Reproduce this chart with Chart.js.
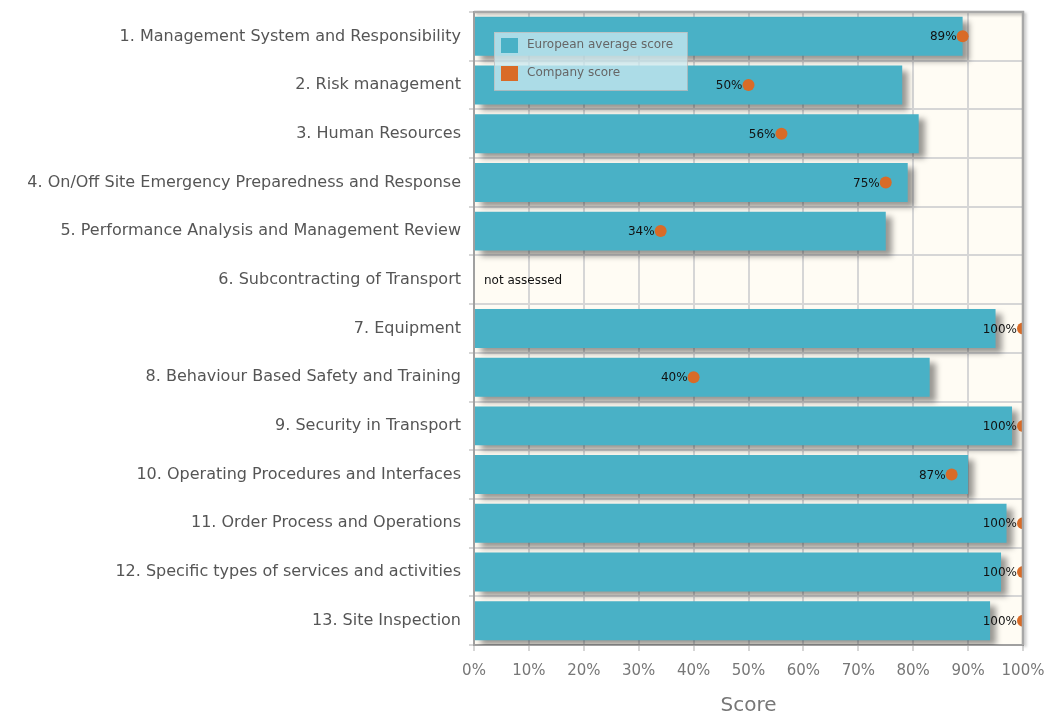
<!DOCTYPE html>
<html>
<head>
<meta charset="utf-8">
<script src="https://cdn.jsdelivr.net/npm/chart.js@4"></script>
<style>
  body { margin: 0; background: #fff; }
  #wrap { width: 1047px; height: 718px; }
</style>
</head>
<body>
<div id="wrap"><canvas id="bars"></canvas></div>
<script>
const categories = [
  '1. Management System and Responsibility',
  '2. Risk management',
  '3. Human Resources',
  '4. On/Off Site Emergency Preparedness and Response',
  '5. Performance Analysis and Management Review',
  '6. Subcontracting of Transport',
  '7. Equipment',
  '8. Behaviour Based Safety and Training',
  '9. Security in Transport',
  '10. Operating Procedures and Interfaces',
  '11. Order Process and Operations',
  '12. Specific types of services and activities',
  '13. Site Inspection'
];
const europeanAvg = [89, 78, 81, 79, 75, null, 95, 83, 98, 90, 97, 96, 94];
const companyScore = [89, 50, 56, 75, 34, null, 100, 40, 100, 87, 100, 100, 100];
const notAssessed = ['6. Subcontracting of Transport'];
const xTicks = [0, 10, 20, 30, 40, 50, 60, 70, 80, 90, 100];

const teal = '#49b1c6';
const orange = '#d96b27';
const labelFont = '"DejaVu Sans", sans-serif';

// cream plot background + border
const plotBg = {
  id: 'plotBg',
  beforeDraw(chart) {
    const { ctx, chartArea: a } = chart;
    ctx.save();
    ctx.fillStyle = '#fffcf4';
    ctx.fillRect(a.left, a.top, a.width, a.height);
    ctx.restore();
  },
  afterDatasetsDraw(chart) {
    const { ctx, chartArea: a } = chart;
    ctx.save();
    ctx.shadowColor = 'rgba(0,0,0,0.25)';
    ctx.shadowOffsetX = 2;
    ctx.shadowOffsetY = 2;
    ctx.shadowBlur = 3;
    ctx.strokeStyle = '#a8a8a8';
    ctx.lineWidth = 2.5;
    ctx.beginPath();
    ctx.moveTo(a.left, a.top);
    ctx.lineTo(a.right, a.top);
    ctx.lineTo(a.right, a.bottom);
    ctx.stroke();
    ctx.restore();
  }
};

// drop shadow under the bars
const barShadow = {
  id: 'barShadow',
  beforeDatasetDraw(chart, args) {
    if (args.index !== 0) return;
    const ctx = chart.ctx;
    ctx.save();
    ctx.shadowColor = 'rgba(0,0,0,0.4)';
    ctx.shadowOffsetX = 6;
    ctx.shadowOffsetY = 5;
    ctx.shadowBlur = 6;
  },
  afterDatasetDraw(chart, args) {
    if (args.index !== 0) return;
    chart.ctx.restore();
  }
};

// value labels next to the dots, "not assessed" text
const pointLabels = {
  id: 'pointLabels',
  afterDatasetsDraw(chart) {
    const { ctx } = chart;
    const meta = chart.getDatasetMeta(1);
    ctx.save();
    ctx.font = '12px ' + labelFont;
    ctx.fillStyle = '#111';
    ctx.textAlign = 'right';
    ctx.textBaseline = 'middle';
    meta.data.forEach((pt, i) => {
      const v = companyScore[i];
      if (v == null) return;
      ctx.fillText(v + '%', pt.x - 6, pt.y + 1);
    });
    const ys = chart.scales.y, xs = chart.scales.x;
    notAssessed.forEach(c => {
      const y = ys.getPixelForValue(categories.indexOf(c));
      ctx.textAlign = 'left';
      ctx.fillText('not assessed', xs.left + 10, y + 1);
    });
    ctx.restore();
  }
};

// floating legend in the top left of the plot
const floatLegend = {
  id: 'floatLegend',
  afterDraw(chart) {
    const { ctx, chartArea: a } = chart;
    const x = a.left + 20, y = a.top + 20;
    ctx.save();
    ctx.fillStyle = 'rgba(205,235,242,0.75)';
    ctx.strokeStyle = 'rgba(190,190,190,0.8)';
    ctx.lineWidth = 1;
    ctx.fillRect(x, y, 193, 58);
    ctx.strokeRect(x + 0.5, y + 0.5, 193, 58);
    ctx.font = '12px ' + labelFont;
    ctx.textBaseline = 'middle';
    chart.data.datasets.forEach((ds, i) => {
      const ry = y + 13 + i * 28;
      ctx.fillStyle = ds.legendColor;
      ctx.fillRect(x + 7, ry - 7, 17, 15);
      ctx.fillStyle = '#666';
      ctx.fillText(ds.label, x + 33, ry);
    });
    ctx.restore();
  }
};

new Chart(document.getElementById('bars'), {
  type: 'bar',
  data: {
    labels: categories,
    datasets: [
      {
        label: 'European average score',
        data: europeanAvg,
        backgroundColor: teal,
        legendColor: teal,
        barPercentage: 0.8,
        categoryPercentage: 1,
        order: 2
      },
      {
        type: 'line',
        label: 'Company score',
        data: companyScore,
        showLine: false,
        pointRadius: 6,
        pointHoverRadius: 6,
        pointBackgroundColor: orange,
        pointBorderWidth: 0,
        legendColor: orange,
        order: 1
      }
    ]
  },
  options: {
    indexAxis: 'y',
    responsive: true,
    maintainAspectRatio: false,
    animation: false,
    layout: { padding: { top: 12, right: 24, left: 0, bottom: 0 } },
    plugins: {
      legend: { display: false },
      tooltip: { enabled: false }
    },
    scales: {
      x: {
        min: 0,
        max: 100,
        afterBuildTicks(scale) { scale.ticks = xTicks.map(v => ({ value: v })); },
        afterFit(scale) {
          scale.height = 73;
          scale.paddingLeft = 0;
          scale.paddingRight = 0;
        },
        ticks: {
          callback: v => v + '%',
          color: '#777',
          font: { family: labelFont, size: 15 },
          padding: 11
        },
        grid: { color: '#d6d6d6', lineWidth: 2, tickLength: 6 },
        border: { color: '#a0a0a0', width: 2 },
        title: {
          display: true,
          text: 'Score',
          color: '#777',
          font: { family: labelFont, size: 20 },
          padding: { top: 0, bottom: 0 }
        }
      },
      y: {
        afterFit(scale) {
          scale.width = 474;
          scale.paddingTop = 0;
          scale.paddingBottom = 0;
        },
        ticks: {
          color: '#555',
          font: { family: labelFont, size: 16 },
          padding: 8
        },
        grid: { color: '#d6d6d6', lineWidth: 2, tickLength: 5 },
        border: { color: '#a0a0a0', width: 2 }
      }
    }
  },
  plugins: [plotBg, barShadow, pointLabels, floatLegend]
});
</script>
</body>
</html>
